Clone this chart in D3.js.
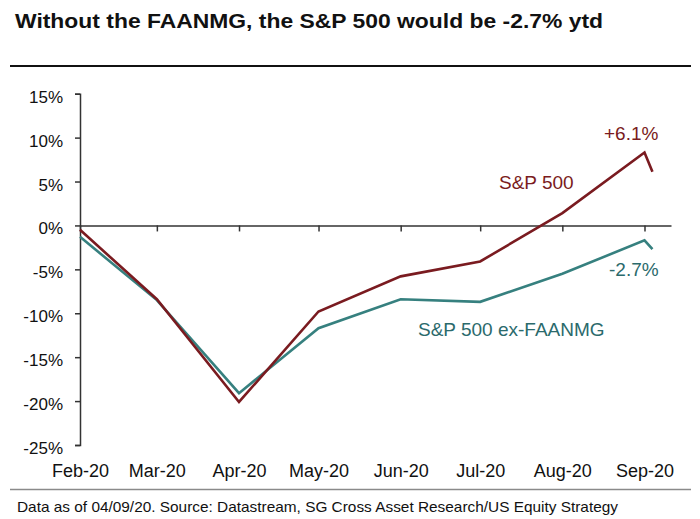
<!DOCTYPE html>
<html>
<head>
<meta charset="utf-8">
<style>
  body { margin: 0; background: #fff; }
  svg { display: block; font-family: "Liberation Sans", Arial, sans-serif; }
</style>
</head>
<body>
<div id="chart"></div>
<script src="https://cdn.jsdelivr.net/npm/d3@7"></script>
<script>
// values (ytd %, month starts + last obs 04/09/20)
const dates = ["2020-02-01", "2020-03-01", "2020-04-01", "2020-05-01", "2020-06-01",
               "2020-07-01", "2020-08-01", "2020-09-01", "2020-09-04"];
const sp500 = [-0.5, -8.4, -20.1, -9.8, -5.8, -4.1, 1.4, 8.3, 6.1];
const exFaanmg = [-1.3, -8.5, -19.1, -11.7, -8.4, -8.7, -5.5, -1.7, -2.7];
const tickDates = ["2020-02-01", "2020-03-01", "2020-04-01", "2020-05-01",
                   "2020-06-01", "2020-07-01", "2020-08-01", "2020-09-01"];
const tickLabels = ["Feb-20", "Mar-20", "Apr-20", "May-20", "Jun-20", "Jul-20", "Aug-20", "Sep-20"];
const yTicks = [-25, -20, -15, -10, -5, 0, 5, 10, 15];

const width = 700;
const height = 519;
const red = "#7a1b20";
const teal = "#36807f";
const tealText = "#2b6a6c";

const parse = d3.utcParse("%Y-%m-%d");

const svg = d3.select("#chart")
  .append("svg")
  .attr("width", width)
  .attr("height", height);

// title + rule (the source font is a wider grotesque, so stretch to its length)
svg.append("text")
  .attr("x", 15)
  .attr("y", 27.5)
  .attr("font-size", 20.5)
  .attr("font-weight", "bold")
  .attr("fill", "#111")
  .attr("textLength", 588)
  .attr("lengthAdjust", "spacingAndGlyphs")
  .text("Without the FAANMG, the S&P 500 would be -2.7% ytd");

svg.append("line")
  .attr("x1", 10).attr("x2", 691)
  .attr("y1", 66).attr("y2", 66)
  .attr("stroke", "#111")
  .attr("stroke-width", 2);

const x = d3.scaleUtc()
  .domain([parse("2020-02-01"), parse("2020-09-11")])
  .range([80, 671]);

const y = d3.scaleLinear()
  .domain([-25, 15])
  .range([445, 93.7]);

// y axis
const yAxis = d3.axisLeft(y)
  .tickValues(yTicks)
  .tickSize(5)
  .tickPadding(12)
  .tickFormat(d => d + "%");

const gy = svg.append("g")
  .attr("transform", "translate(80,0)")
  .call(yAxis);
gy.select(".domain").attr("stroke", "#333").attr("stroke-width", 1.5);
gy.selectAll(".tick line").attr("stroke", "#333").attr("stroke-width", 1.5);
gy.selectAll(".tick text")
  .attr("font-size", 17)
  .attr("font-family", "Liberation Sans, Arial, sans-serif")
  .attr("fill", "#111")
  .attr("dy", "0.5em");

// x axis on the zero line (ticks only)
const xAxis = d3.axisBottom(x)
  .tickValues(tickDates.map(parse))
  .tickSize(6)
  .tickSizeOuter(0)
  .tickFormat("");

const gx = svg.append("g")
  .attr("transform", `translate(0,${y(0)})`)
  .call(xAxis);
gx.select(".domain").attr("stroke", "#333").attr("stroke-width", 1.5);
gx.selectAll(".tick line").attr("stroke", "#333").attr("stroke-width", 1.5);

// month labels along the bottom
const xLabels = d3.axisBottom(x)
  .tickValues(tickDates.map(parse))
  .tickSize(0)
  .tickPadding(0)
  .tickFormat((d, i) => tickLabels[i]);

const gl = svg.append("g")
  .attr("transform", "translate(0,463)")
  .call(xLabels);
gl.select(".domain").remove();
gl.selectAll(".tick text")
  .attr("font-size", 18)
  .attr("font-family", "Liberation Sans, Arial, sans-serif")
  .attr("fill", "#111")
  .attr("dy", "0.75em");

// lines
const line = d3.line()
  .x(d => x(d.date))
  .y(d => y(d.value));

const spData = dates.map((d, i) => ({ date: parse(d), value: sp500[i] }));
const exData = dates.map((d, i) => ({ date: parse(d), value: exFaanmg[i] }));

svg.append("path")
  .datum(exData)
  .attr("fill", "none")
  .attr("stroke", teal)
  .attr("stroke-width", 2.6)
  .attr("stroke-linejoin", "miter")
  .attr("d", line);

svg.append("path")
  .datum(spData)
  .attr("fill", "none")
  .attr("stroke", red)
  .attr("stroke-width", 2.6)
  .attr("stroke-linejoin", "miter")
  .attr("d", line);

// annotations
const notes = [
  { text: "+6.1%", x: 604, y: 140, color: red },
  { text: "S&P 500", x: 499, y: 189, color: red },
  { text: "-2.7%", x: 609, y: 275.5, color: tealText },
  { text: "S&P 500 ex-FAANMG", x: 418, y: 336, color: tealText }
];

svg.selectAll(".note")
  .data(notes)
  .enter()
  .append("text")
  .attr("class", "note")
  .attr("x", d => d.x)
  .attr("y", d => d.y)
  .attr("font-size", 19)
  .attr("fill", d => d.color)
  .text(d => d.text);

// footer
svg.append("line")
  .attr("x1", 10).attr("x2", 691)
  .attr("y1", 489.5).attr("y2", 489.5)
  .attr("stroke", "#8a8a8a")
  .attr("stroke-width", 1.5);

svg.append("text")
  .attr("x", 17)
  .attr("y", 511.5)
  .attr("font-size", 15)
  .attr("fill", "#111")
  .attr("textLength", 601)
  .attr("lengthAdjust", "spacingAndGlyphs")
  .text("Data as of 04/09/20. Source: Datastream, SG Cross Asset Research/US Equity Strategy");
</script>
</body>
</html>
